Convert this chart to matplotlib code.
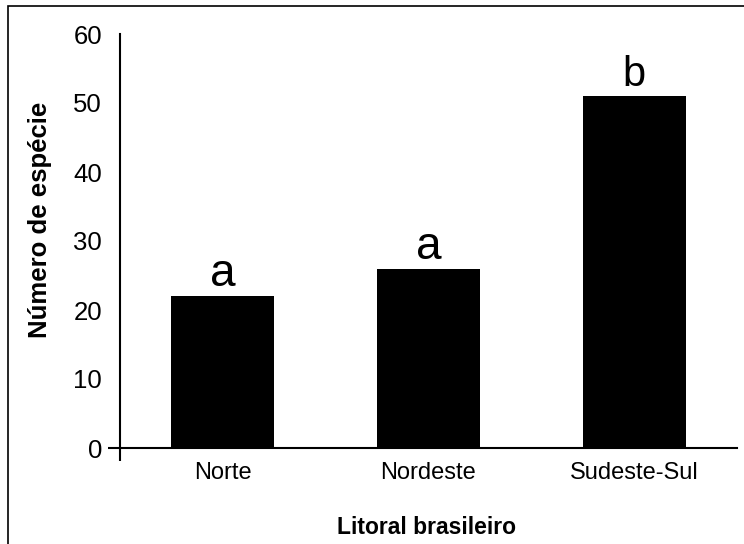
import matplotlib
matplotlib.use("Agg")
import matplotlib.pyplot as plt
from matplotlib.patches import Rectangle

regioes = ["Norte", "Nordeste", "Sudeste-Sul"]
especies = [22, 26, 51]
letras = ["a", "a", "b"]
yticks = [0, 10, 20, 30, 40, 50, 60]

plt.rcParams['font.family'] = ['Liberation Sans', 'DejaVu Sans']

fig = plt.figure(figsize=(7.44, 5.44), dpi=100)
ax = fig.add_axes([120 / 744, 1 - 448 / 544, 617 / 744, 414 / 544])

x = range(len(regioes))
bars = ax.bar(x, especies, width=0.5, color='black')
# the letters in the original are not all the same size
tamanho = {"a": 33, "b": 30}
for b, l in zip(bars, letras):
    ax.annotate(l, (b.get_x() + b.get_width() / 2, b.get_height()),
                xytext=(0, 7), textcoords='offset points',
                ha='center', va='baseline', fontsize=tamanho[l])

ax.set_xlim(-0.5, 2.5)
ax.set_ylim(0, 60)
ax.set_yticks(yticks)
ax.set_xticks(list(x))
ax.set_xticklabels(regioes, fontsize=17)
ax.tick_params(axis='y', length=0, pad=13, labelsize=18.5)
ax.tick_params(axis='x', length=0, pad=10)
ax.yaxis.remove_overlapping_locs = False
ax.set_yticks([0], minor=True)
ax.set_xticks([-0.5], minor=True)
ax.tick_params(which='minor', length=9, width=1.5, direction='out')

for s in ['top', 'right']:
    ax.spines[s].set_visible(False)
for s in ['left', 'bottom']:
    ax.spines[s].set_linewidth(1.5)

fig.text(426 / 744, 1 - 528 / 544, "Litoral brasileiro", ha='center', va='center',
         fontsize=16.5, fontweight='bold')
fig.text(40 / 744, 1 - 220 / 544, "Número de espécie", ha='center', va='center',
         rotation=90, fontsize=18.5, fontweight='bold')

fig.patches.append(Rectangle((8 / 744, -0.1), 1.2, 1.1 - 6 / 544, transform=fig.transFigure,
                             fill=False, edgecolor='black', linewidth=1.2))

fig.savefig("out.png", dpi=100)
